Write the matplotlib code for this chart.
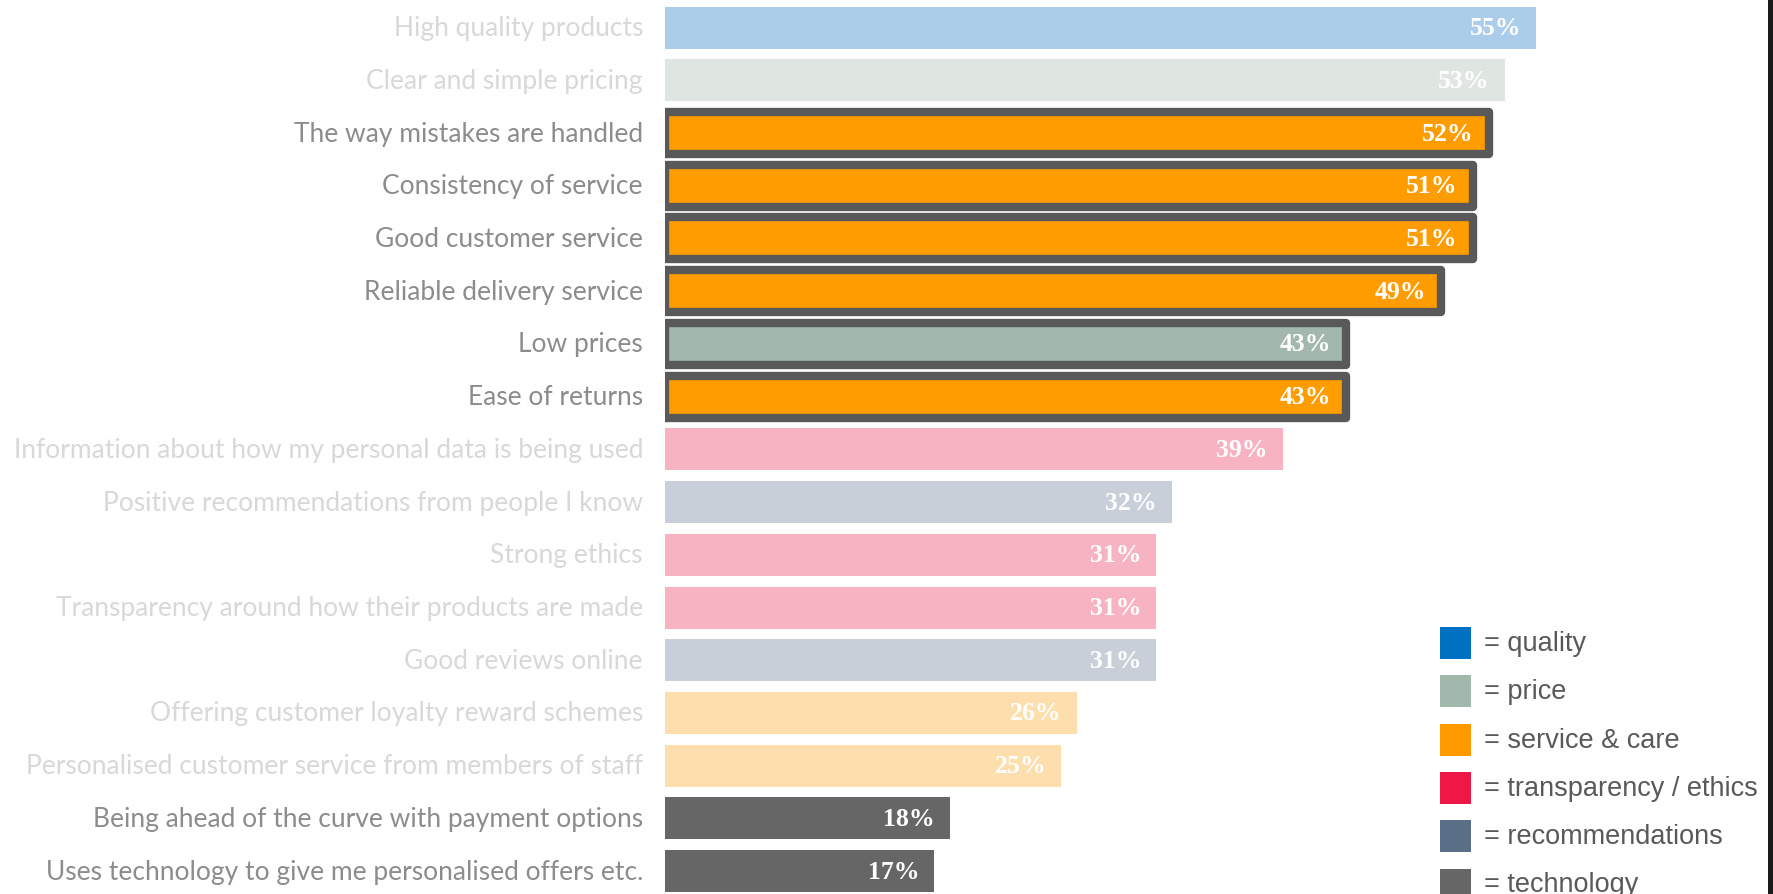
import matplotlib
matplotlib.use("Agg")
import matplotlib.pyplot as plt
from matplotlib.patches import Rectangle

categories = [
    "High quality products",
    "Clear and simple pricing",
    "The way mistakes are handled",
    "Consistency of service",
    "Good customer service",
    "Reliable delivery service",
    "Low prices",
    "Ease of returns",
    "Information about how my personal data is being used",
    "Positive recommendations from people I know",
    "Strong ethics",
    "Transparency around how their products are made",
    "Good reviews online",
    "Offering customer loyalty reward schemes",
    "Personalised customer service from members of staff",
    "Being ahead of the curve with payment options",
    "Uses technology to give me personalised offers etc.",
]
values = [55, 53, 52, 51, 51, 49, 43, 43, 39, 32, 31, 31, 31, 26, 25, 18, 17]
bar_colors = ["#ABCDE9", "#DFE5E1", "#FF9C00", "#FF9C00", "#FF9C00", "#FF9C00",
              "#A2B8AC", "#FF9C00", "#F7B3C2", "#C8CFD9", "#F7B3C2", "#F7B3C2",
              "#C8CFD9", "#FFDEAD", "#FFDEAD", "#666666", "#666666"]
highlighted = [False, False, True, True, True, True, True, True,
               False, False, False, False, False, False, False, False, False]
label_dark = [False, False, True, True, True, True, True, True,
              False, False, False, False, False, False, False, True, True]

legend_labels = ["= quality", "= price", "= service & care",
                 "= transparency / ethics", "= recommendations", "= technology"]
legend_colors = ["#0070C0", "#A2B8AC", "#FF9900", "#EE1847", "#5B6F88", "#666666"]

W, H = 1773, 895
fig = plt.figure(figsize=(W / 100, H / 100), dpi=100)

x0_px = 665
px_per_pct = 15.84
ax_w_px = 1000
row_px = 52.72
top_center = 28.6
n = len(categories)
ax_top_px = top_center - row_px / 2
ax_h_px = row_px * n
ax = fig.add_axes([x0_px / W, (H - ax_top_px - ax_h_px) / H, ax_w_px / W, ax_h_px / H])
ax.set_xlim(0, ax_w_px / px_per_pct)
ax.set_ylim(n - 0.5, -0.5)
ax.axis("off")

ys = list(range(n))
bh = 42 / row_px
for y, v, c, hl in zip(ys, values, bar_colors, highlighted):
    if hl:
        ax.barh(y, v, height=bh, color=c, edgecolor="#595959", linewidth=6,
                joinstyle="round", zorder=2)
    else:
        ax.barh(y, v, height=bh, color=c, edgecolor="none", zorder=2)
    ax.annotate(f"{v}%", xy=(v, y), xytext=(-15, 0), textcoords="offset pixels",
                ha="right", va="center", color="white", fontsize=18.5,
                fontweight="bold", family="Liberation Serif", zorder=3)

for y, lab, dark in zip(ys, categories, label_dark):
    ax.annotate(lab, xy=(0, y), xytext=(-22, 0), textcoords="offset pixels",
                ha="right", va="center", color="#8C8C8C" if dark else "#D8D8D8",
                fontsize=19, family="Lato")

# legend
leg_y0 = 644
leg_dy = 48.3
for i, (lab, c) in enumerate(zip(legend_labels, legend_colors)):
    yc = leg_y0 + i * leg_dy
    fig.patches.append(Rectangle((1440 / W, (H - yc - 16) / H), 31 / W, 32 / H,
                                 transform=fig.transFigure, facecolor=c, edgecolor="none"))
    fig.text(1484 / W, (H - yc) / H, lab, ha="left", va="center", color="#595959",
             fontsize=19.5, family="Liberation Sans")

# dark strip at right edge
fig.patches.append(Rectangle((1768 / W, 0), 5 / W, 1, transform=fig.transFigure,
                             facecolor="#1A1A1A", edgecolor="none"))

fig.savefig("out.png", dpi=100)
